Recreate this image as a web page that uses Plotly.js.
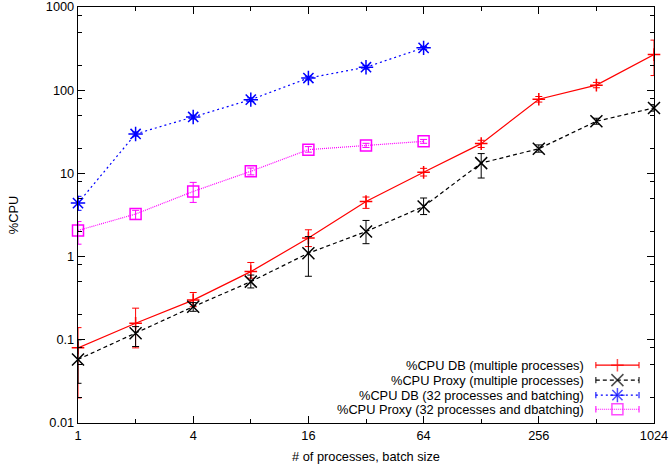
<!DOCTYPE html>
<html>
<head>
<meta charset="utf-8">
<script src="https://cdn.plot.ly/plotly-3.0.1.min.js"></script>
<style>html,body{margin:0;padding:0;background:#fff;}#chart{width:670px;height:465px;}</style>
</head>
<body>
<div id="chart"></div>
<script>
// ---- data ----
const xProc = [1, 2, 4, 8, 16, 32, 64, 128, 256, 512, 1024];
const dbMulti   = [0.08, 0.158, 0.30, 0.66, 1.67, 4.6, 10.3, 22.8, 78, 115, 268];
const dbMultiLo = [0.02, 0.08, 0.25, 0.55, 1.32, 3.8, 9.3, 20.5, 72, 107, 150];
const dbMultiHi = [0.14, 0.24, 0.37, 0.85, 2.1, 5.2, 11.5, 25, 84, 124, 400];

const proxyMulti   = [0.058, 0.12, 0.25, 0.50, 1.1, 2.0, 4.0, 13.3, 19.8, 42.3, 61.2];
const proxyMultiLo = [0.03, 0.083, 0.22, 0.42, 0.58, 1.43, 3.2, 8.8, 18, 39, 56];
const proxyMultiHi = [0.10, 0.144, 0.28, 0.60, 1.74, 2.72, 5.06, 17.3, 22, 46, 67];

const xBatch = [1, 2, 4, 8, 16, 32, 64];
const dbBatch   = [4.4, 29.8, 47.7, 77, 140, 189, 323];
const dbBatchLo = [3.6, 28, 45, 73, 133, 180, 310];
const dbBatchHi = [5.3, 31.5, 50, 81, 147, 198, 336];

const proxyBatch   = [2.06, 3.25, 6.07, 10.6, 19.3, 21.7, 24.3];
const proxyBatchLo = [1.41, 2.8, 4.48, 9.6, 18, 20.5, 23];
const proxyBatchHi = [2.64, 3.6, 7.8, 11.6, 21, 23, 25.6];

const seriesNames = [
  '%CPU DB (multiple processes)',
  '%CPU Proxy (multiple processes)',
  '%CPU DB (32 processes and batching)',
  '%CPU Proxy (32 processes and dbatching)'
];
const xTickVals = [1, 4, 16, 64, 256, 1024];
const xTickText = ['1', '4', '16', '64', '256', '1024'];
const xMinorVals = [2, 8, 32, 128, 512];
const yTickVals = [0.01, 0.1, 1, 10, 100, 1000];
const yTickText = ['0.01', '0.1', '1', '10', '100', '1000'];
const yMinorVals = [];
[0.01, 0.1, 1, 10, 100].forEach(d => [2, 5, 8].forEach(m => yMinorVals.push(d * m)));

// ---- styles ----
const FONT = 'Liberation Sans, Arial, Helvetica, sans-serif';
const FS = 12.8;
const styles = [
  {color: '#ff0000', dash: 'solid', symbol: 'cross-thin-open', size: 9},
  {color: '#000000', dash: '4px,3px', symbol: 'x-thin-open', size: 12},
  {color: '#0000ff', dash: '2px,3px', symbol: 'asterisk-open', size: 12},
  {color: '#ff00ff', dash: '1px,1px', symbol: 'square-open', size: 11}
];

function mkTrace(x, y, lo, hi, st) {
  return {
    x: x, y: y, type: 'scatter', mode: 'lines+markers',
    line: {color: st.color, width: 1.2, dash: st.dash},
    marker: {symbol: st.symbol, size: st.size, color: st.color, line: {color: st.color, width: 1.5}},
    error_y: {
      type: 'data', symmetric: false,
      array: y.map((v, i) => hi[i] - v),
      arrayminus: y.map((v, i) => v - lo[i]),
      color: st.color, thickness: 1, width: 3.5
    },
    showlegend: false, hoverinfo: 'skip', cliponaxis: false
  };
}

const traces = [
  mkTrace(xProc, dbMulti, dbMultiLo, dbMultiHi, styles[0]),
  mkTrace(xProc, proxyMulti, proxyMultiLo, proxyMultiHi, styles[1]),
  mkTrace(xBatch, dbBatch, dbBatchLo, dbBatchHi, styles[2]),
  mkTrace(xBatch, proxyBatch, proxyBatchLo, proxyBatchHi, styles[3])
];

// ---- custom key (gnuplot-style: text right-aligned, sample on the right) ----
const keyRows = [0.139, 0.103, 0.067, 0.033];
const keyX0 = 0.899, keyX1 = 0.974, keyXm = 0.9365, keyTextX = 0.882;
const annotations = [];
seriesNames.forEach((name, i) => {
  const st = styles[i];
  traces.push({
    x: [keyX0, keyXm, keyX1], y: [keyRows[i], keyRows[i], keyRows[i]],
    xaxis: 'x2', yaxis: 'y2', type: 'scatter', mode: 'lines+markers',
    line: {color: st.color, width: 1.2, dash: st.dash},
    marker: {
      symbol: ['line-ns-open', st.symbol, 'line-ns-open'],
      size: [4.5, st.size, 4.5], color: st.color,
      line: {color: st.color, width: 1.5}
    },
    showlegend: false, hoverinfo: 'skip', cliponaxis: false
  });
  annotations.push({
    xref: 'x2', yref: 'y2', x: keyTextX, y: keyRows[i],
    text: name, showarrow: false, xanchor: 'right', yanchor: 'middle',
    font: {family: FONT, size: FS, color: '#000'}
  });
});

const layout = {
  width: 670, height: 465,
  margin: {l: 78, r: 16, t: 7, b: 42},
  paper_bgcolor: '#fff', plot_bgcolor: '#fff',
  font: {family: FONT, size: FS, color: '#000'},
  showlegend: false, hovermode: false,
  xaxis: {
    type: 'log', range: [0, Math.log10(1024)],
    tickmode: 'array', tickvals: xTickVals, ticktext: xTickText,
    ticks: 'inside', ticklen: 7, tickwidth: 1, tickcolor: '#000',
    minor: {tickmode: 'array', tickvals: xMinorVals, ticks: 'inside', ticklen: 4, tickcolor: '#000', showgrid: false},
    showline: true, linecolor: '#000', linewidth: 1.2, mirror: 'ticks',
    showgrid: false, zeroline: false, ticklabeloverflow: 'allow',
    tickfont: {family: FONT, size: FS, color: '#000'},
    title: {text: '# of processes, batch size', font: {family: FONT, size: FS, color: '#000'}, standoff: 10}
  },
  yaxis: {
    type: 'log', range: [-2, 3],
    tickmode: 'array', tickvals: yTickVals, ticktext: yTickText,
    ticks: 'inside', ticklen: 7, tickwidth: 1, tickcolor: '#000',
    minor: {tickmode: 'array', tickvals: yMinorVals, ticks: 'inside', ticklen: 4, tickcolor: '#000', showgrid: false},
    showline: true, linecolor: '#000', linewidth: 1.2, mirror: 'ticks',
    showgrid: false, zeroline: false, ticklabeloverflow: 'allow',
    tickfont: {family: FONT, size: FS, color: '#000'},
    title: {text: '%CPU', font: {family: FONT, size: FS, color: '#000'}, standoff: 24}
  },
  xaxis2: {overlaying: 'x', range: [0, 1], visible: false, fixedrange: true},
  yaxis2: {overlaying: 'y', range: [0, 1], visible: false, fixedrange: true},
  annotations: annotations
};

Plotly.newPlot('chart', traces, layout, {staticPlot: true, displayModeBar: false});
</script>
</body>
</html>
